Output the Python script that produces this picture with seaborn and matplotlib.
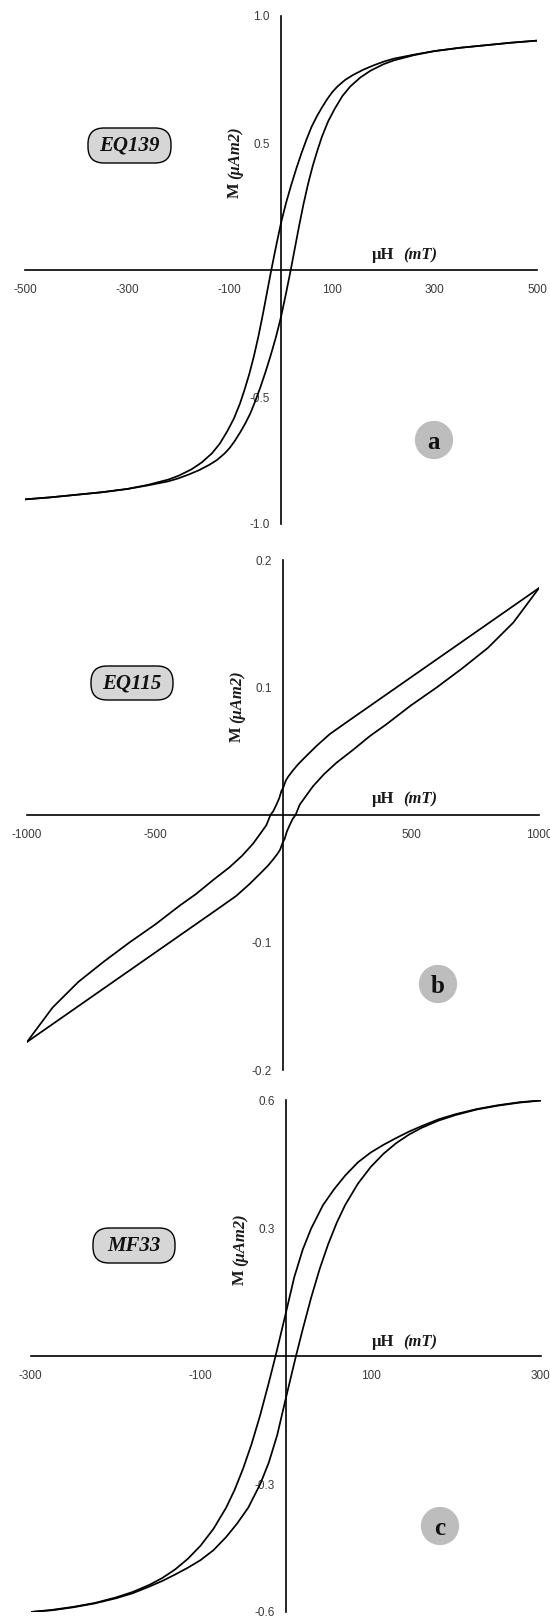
import matplotlib
matplotlib.use("Agg")
import matplotlib.pyplot as plt
from matplotlib.patches import FancyBboxPatch
import seaborn as sns
import pandas as pd

FIG_W, FIG_H = 550, 1617

# ---------------- EQ139 hysteresis loop (field in mT, moment in uAm2) ----------------
eq139_field_up = [-500, -450, -400, -350, -300, -260, -220, -200, -180, -160, -140, -125, -110,
                  -100, -90, -80, -70, -60, -50, -40, -30, -20, -10, 0, 10, 19, 27, 35, 44,
                  53, 62, 71, 80, 92, 105, 120, 135, 155, 175, 200, 220, 260, 300, 350, 400,
                  450, 500]
eq139_moment_up = [-0.903, -0.895, -0.885, -0.875, -0.862, -0.848, -0.832, -0.820, -0.805,
                   -0.788, -0.767, -0.748, -0.722, -0.700, -0.672, -0.640, -0.605, -0.565,
                   -0.515, -0.460, -0.400, -0.335, -0.265, -0.185, -0.090, 0.000, 0.085,
                   0.170, 0.260, 0.340, 0.410, 0.470, 0.525, 0.585, 0.635, 0.685, 0.722,
                   0.758, 0.785, 0.810, 0.825, 0.846, 0.862, 0.875, 0.885, 0.895, 0.903]
eq139_field_down = [500, 450, 400, 350, 300, 260, 220, 200, 180, 160, 140, 125, 110,
                    100, 90, 80, 70, 60, 50, 40, 30, 20, 10, 0, -10, -19, -27, -35, -44,
                    -53, -62, -71, -80, -92, -105, -120, -135, -155, -175, -200, -220, -260,
                    -300, -350, -400, -450, -500]
eq139_moment_down = [0.903, 0.895, 0.885, 0.875, 0.862, 0.848, 0.832, 0.820, 0.805,
                     0.788, 0.767, 0.748, 0.722, 0.700, 0.672, 0.640, 0.605, 0.565,
                     0.515, 0.460, 0.400, 0.335, 0.265, 0.185, 0.090, 0.000, -0.085,
                     -0.170, -0.260, -0.340, -0.410, -0.470, -0.525, -0.585, -0.635, -0.685,
                     -0.722, -0.758, -0.785, -0.810, -0.825, -0.846, -0.862, -0.875, -0.885,
                     -0.895, -0.903]
eq139_xticks = [-500, -400, -300, -200, -100, 100, 200, 300, 400, 500]
eq139_xticklabels = ["-500", "", "-300", "", "-100", "100", "", "300", "", "500"]
eq139_yticks = [-1.0, -0.5, 0.5, 1.0]
eq139_yticklabels = ["-1.0", "-0.5", "0.5", "1.0"]

# ---------------- EQ115 hysteresis loop ----------------
eq115_field_up = [-1000, -900, -800, -700, -600, -500, -400, -325, -250, -183, -130, -92, -60,
                  -39, -20, -11, 0, 6, 15, 25, 38, 49, 65, 90, 117, 160, 209, 273, 340, 403,
                  500, 600, 700, 800, 900, 1000]
eq115_moment_up = [-0.178, -0.164, -0.150, -0.136, -0.122, -0.108, -0.094, -0.0835, -0.073,
                   -0.0635, -0.054, -0.0465, -0.040, -0.035, -0.030, -0.027, -0.021, -0.019,
                   -0.013, -0.0084, -0.003, 0.000, 0.008, 0.015, 0.0225, 0.032, 0.041, 0.051,
                   0.062, 0.071, 0.086, 0.100, 0.115, 0.131, 0.151, 0.178]
eq115_field_down = [1000, 900, 800, 700, 600, 500, 400, 325, 250, 183, 130, 92, 60,
                    39, 20, 11, 0, -6, -15, -25, -38, -49, -65, -90, -117, -160, -209, -273,
                    -340, -403, -500, -600, -700, -800, -900, -1000]
eq115_moment_down = [0.178, 0.164, 0.150, 0.136, 0.122, 0.108, 0.094, 0.0835, 0.073,
                     0.0635, 0.054, 0.0465, 0.040, 0.035, 0.030, 0.027, 0.021, 0.019,
                     0.013, 0.0084, 0.003, 0.000, -0.008, -0.015, -0.0225, -0.032, -0.041,
                     -0.051, -0.062, -0.071, -0.086, -0.100, -0.115, -0.131, -0.151, -0.178]
eq115_xticks = [-1000, -750, -500, -250, 250, 500, 750, 1000]
eq115_xticklabels = ["-1000", "", "-500", "", "", "500", "", "1000"]
eq115_yticks = [-0.2, -0.1, 0.1, 0.2]
eq115_yticklabels = ["-0.2", "-0.1", "0.1", "0.2"]

# ---------------- MF33 hysteresis loop ----------------
mf33_field_up = [-300, -275, -250, -225, -200, -180, -160, -145, -130, -115, -100, -85, -70,
                 -57, -44, -30, -20, -10, 0, 6, 12, 20, 30, 40, 50, 60, 70, 85, 100, 115,
                 130, 145, 160, 180, 200, 225, 250, 275, 300]
mf33_moment_up = [-0.600, -0.596, -0.589, -0.580, -0.568, -0.556, -0.540, -0.527, -0.512,
                  -0.496, -0.478, -0.455, -0.424, -0.392, -0.355, -0.300, -0.250, -0.185,
                  -0.100, -0.050, 0.000, 0.063, 0.138, 0.205, 0.263, 0.313, 0.355, 0.405,
                  0.444, 0.475, 0.500, 0.520, 0.536, 0.553, 0.566, 0.579, 0.588, 0.595, 0.600]
mf33_field_down = [300, 275, 250, 225, 200, 180, 160, 145, 130, 115, 100, 85, 70,
                   57, 44, 30, 20, 10, 0, -6, -12, -20, -30, -40, -50, -60, -70, -85, -100,
                   -115, -130, -145, -160, -180, -200, -225, -250, -275, -300]
mf33_moment_down = [0.600, 0.596, 0.589, 0.580, 0.568, 0.556, 0.540, 0.527, 0.512,
                    0.496, 0.478, 0.455, 0.424, 0.392, 0.355, 0.300, 0.250, 0.185,
                    0.100, 0.050, 0.000, -0.063, -0.138, -0.205, -0.263, -0.313, -0.355,
                    -0.405, -0.444, -0.475, -0.500, -0.520, -0.536, -0.553, -0.566, -0.579,
                    -0.588, -0.595, -0.600]
mf33_xticks = [-300, -200, -100, 100, 200, 300]
mf33_xticklabels = ["-300", "", "-100", "100", "", "300"]
mf33_yticks = [-0.6, -0.3, 0.3, 0.6]
mf33_yticklabels = ["-0.6", "-0.3", "0.3", "0.6"]

sample_names = ["EQ139", "EQ115", "MF33"]
panel_letters = ["a", "b", "c"]


def loop_frame(f_up, m_up, f_down, m_down):
    up = pd.DataFrame({"H": f_up, "M": m_up, "branch": "up"})
    down = pd.DataFrame({"H": f_down, "M": m_down, "branch": "down"})
    return pd.concat([down, up], ignore_index=True)


def fx(px):
    return px / FIG_W


def fy(py):
    return 1.0 - py / FIG_H


sns.set_style("white")
plt.rcParams["font.family"] = ["Liberation Sans", "DejaVu Sans"]

fig = plt.figure(figsize=(FIG_W / 100, FIG_H / 100), dpi=100)

SERIF = ["Liberation Serif", "DejaVu Serif"]

panels = [
    dict(df=loop_frame(eq139_field_up, eq139_moment_up, eq139_field_down, eq139_moment_down),
         xlim=(-500, 500), ylim=(-1.0, 1.0),
         xticks=eq139_xticks, xticklabels=eq139_xticklabels,
         yticks=eq139_yticks, yticklabels=eq139_yticklabels,
         box=(25, 537, 16, 524), axis_y=270, yaxis_x=281,
         tag=(88, 128, 83, 35), letter=(434, 440)),
    dict(df=loop_frame(eq115_field_up, eq115_moment_up, eq115_field_down, eq115_moment_down),
         xlim=(-1000, 1000), ylim=(-0.2, 0.2),
         xticks=eq115_xticks, xticklabels=eq115_xticklabels,
         yticks=eq115_yticks, yticklabels=eq115_yticklabels,
         box=(27, 539, 560, 1070), axis_y=814, yaxis_x=283,
         tag=(91, 666, 82, 34), letter=(438, 984)),
    dict(df=loop_frame(mf33_field_up, mf33_moment_up, mf33_field_down, mf33_moment_down),
         xlim=(-300, 300), ylim=(-0.6, 0.6),
         xticks=mf33_xticks, xticklabels=mf33_xticklabels,
         yticks=mf33_yticks, yticklabels=mf33_yticklabels,
         box=(30.7, 540.7, 1100.5, 1612), axis_y=1357, yaxis_x=286,
         tag=(93, 1228, 82, 35), letter=(440, 1526)),
]

for p, name, letter in zip(panels, sample_names, panel_letters):
    x0, x1, yt, yb = p["box"]
    ax = fig.add_axes([fx(x0), fy(yb), (x1 - x0) / FIG_W, (yb - yt) / FIG_H])
    ax.set_facecolor("none")

    sns.lineplot(data=p["df"], x="H", y="M", units="branch", estimator=None, sort=False,
                 color="black", linewidth=1.25, ax=ax, zorder=4)
    ax.set_xlim(*p["xlim"])
    ax.set_ylim(*p["ylim"])
    ax.set_xlabel("")
    ax.set_ylabel("")

    for side in ("top", "right"):
        ax.spines[side].set_visible(False)
    ax.spines["left"].set_position(("data", 0))
    ax.spines["bottom"].set_position(("data", 0))
    for side in ("left", "bottom"):
        ax.spines[side].set_linewidth(1.2)
        ax.spines[side].set_color("black")

    ax.set_xticks(p["xticks"])
    ax.set_xticklabels(p["xticklabels"])
    ax.set_yticks(p["yticks"])
    ax.set_yticklabels(p["yticklabels"])
    ax.tick_params(axis="x", direction="out", length=6, width=1.2, color="black",
                   labelsize=8.5, labelcolor="#3a3a3a", pad=4)
    ax.tick_params(axis="y", direction="out", length=6, width=1.2, color="black",
                   labelsize=8.5, labelcolor="#3a3a3a", pad=2)
    for lab in ax.get_xticklabels() + ax.get_yticklabels():
        lab.set_fontfamily(["Liberation Sans Narrow", "Liberation Sans"])
    ax.grid(False)

    # axis captions
    ay = p["axis_y"]
    fig.text(fx(372), fy(ay - 15), "\u03bcH", fontfamily=SERIF, fontweight="bold",
             fontsize=12, ha="left", va="center", color="#1a1a1a")
    fig.text(fx(403), fy(ay - 15), "(mT)", fontfamily=SERIF, fontweight="bold",
             fontstyle="italic", fontsize=12, ha="left", va="center", color="#1a1a1a")
    yx = p["yaxis_x"] - 46
    ybase = ay - 72
    fig.text(fx(yx), fy(ybase), "M", fontfamily=SERIF, fontweight="bold",
             fontsize=12, rotation=90, rotation_mode="anchor", ha="left", va="center",
             color="#1a1a1a")
    fig.text(fx(yx), fy(ybase - 19), "(\u03bcAm2)", fontfamily=SERIF,
             fontweight="bold", fontstyle="italic", fontsize=12, rotation=90,
             rotation_mode="anchor", ha="left", va="center", color="#1a1a1a")

    # sample tag in a pill-shaped box (pixel geometry via inches)
    bx, by, bw, bh = p["tag"]
    pill = FancyBboxPatch((bx / 100, (FIG_H - by - bh) / 100), bw / 100, bh / 100,
                          boxstyle="round,pad=0,rounding_size=0.16",
                          transform=fig.dpi_scale_trans, facecolor="#d6d6d6",
                          edgecolor="black", linewidth=1.0)
    fig.add_artist(pill)
    fig.text(fx(bx + bw / 2), fy(by + bh / 2), name, fontfamily=SERIF, fontweight="bold",
             fontstyle="italic", fontsize=15, ha="center", va="center", color="#111111")

    # panel letter in a grey disc
    lx, ly = p["letter"]
    ax.scatter([fx(lx)], [fy(ly)], s=760, color="#bdbdbd", edgecolors="none",
               transform=fig.transFigure, clip_on=False, zorder=1)
    fig.text(fx(lx), fy(ly), letter, fontfamily=SERIF, fontweight="bold",
             fontsize=18, ha="center", va="center_baseline", color="#111111")

fig.savefig("out.png", dpi=100, facecolor="white")
